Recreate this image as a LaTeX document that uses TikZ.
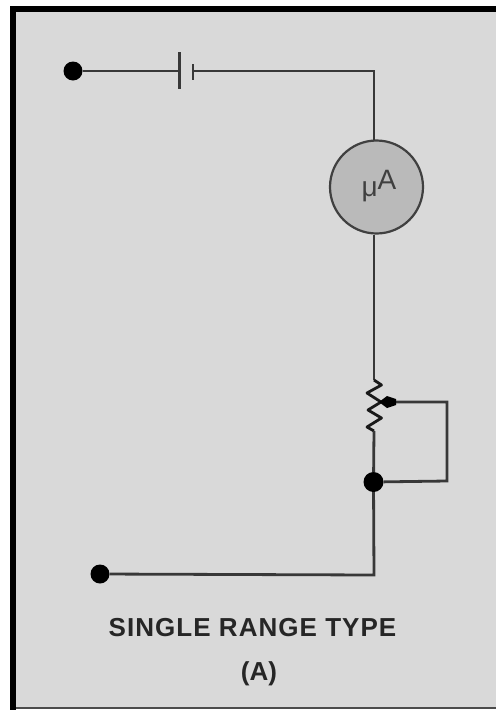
\documentclass[tikz,border=0pt]{standalone}
\usepackage{fontspec}
\setmainfont{Liberation Sans}
\tikzset{
  wire/.style={draw=wirecol,line width=2.8pt},
  term/.style={circle,fill=black,inner sep=0pt,minimum size=19pt},
  lbl/.style={text=black!85,font=\bfseries\fontsize{26}{30}\selectfont,inner sep=0pt}
}
\definecolor{wirecol}{gray}{0.22}
\definecolor{panel}{gray}{0.85}
\definecolor{meterfill}{gray}{0.73}
\begin{document}
\begin{tikzpicture}[x=1pt,y=-1pt]
\useasboundingbox (0,0) rectangle (496,710);
\fill[white] (0,0) rectangle (496,710);
\fill[panel] (13,9) rectangle (496,708);
\fill[black] (10,6) rectangle (496,12);
\fill[black] (10,6) rectangle (16,710);
\fill[black!70] (16,707) rectangle (496,709);
\node[term] (t1) at (73,71) {};
\node[term] (t2) at (100,574) {};
\node[term,minimum size=20pt] (j) at (373.5,482) {};
\node[circle,draw=black!75,line width=2.2pt,fill=meterfill,minimum size=93pt,inner sep=0pt] (m) at (376.5,187) {};
\node[inner sep=0pt,text=black!75,font=\fontsize{28}{30}\selectfont] (ml) at (379,186) {μ\raisebox{7pt}{A}};
\coordinate (b1) at (179.5,71);
\coordinate (b2) at (193,71);
\coordinate (c1) at (374,71);
\coordinate (r1) at (374,380);
\coordinate (r2) at (374,431);
\coordinate (w) at (395,402);
\coordinate (wc) at (447,402);
\coordinate (jc) at (447,481);
\coordinate (c2) at (374,575);
\draw[wire] (t1) -- (b1);
\draw[wire] (179.5,52) -- (179.5,89);
\draw[wire] (193,64) -- (193,80);
\draw[wire] (b2) -- (c1) -- (374,140);
\draw[wire] (374,235) -- (r1);
\draw[draw=black!90,line width=2.8pt,line join=round] (r1) -- (381.5,385) -- (367,393) -- (381,402) -- (368,410) -- (381.5,418) -- (367,427) -- (r2);
\draw[wire] (r2) -- (j);
\draw[wire] (j) -- (c2) -- (t2);
\draw[wire] (w) -- (wc) -- (jc) -- (j);
\fill[black] (379,402) -- (387,396) -- (396,399) -- (396,405) -- (387,408) -- cycle;
\node[lbl] (title) at (252.5,628) {\addfontfeatures{LetterSpace=4}SINGLE RANGE TYPE};
\node[lbl] (sub) at (259,674) {(A)};
\end{tikzpicture}
\end{document}
